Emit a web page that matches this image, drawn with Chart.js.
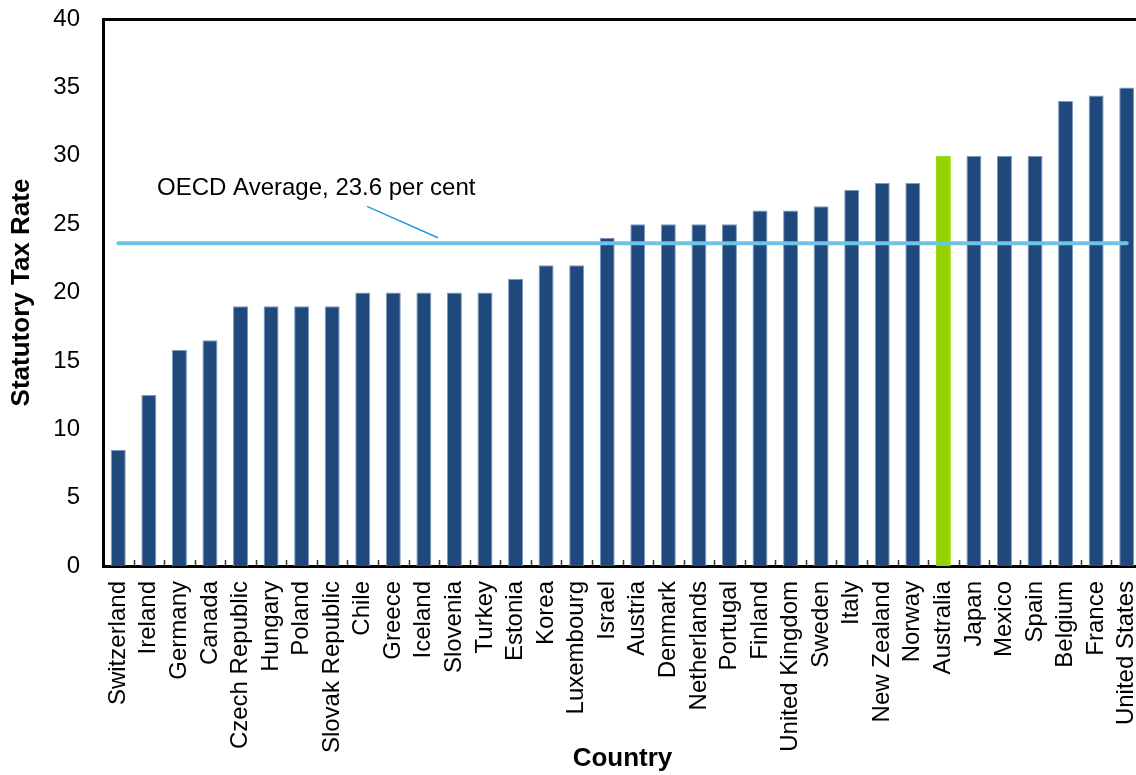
<!DOCTYPE html>
<html>
<head>
<meta charset="utf-8">
<title>Statutory Tax Rate by Country</title>
<script src="https://cdn.jsdelivr.net/npm/chart.js@4.4.1/dist/chart.umd.min.js"></script>
<style>
    html, body { margin: 0; padding: 0; background: #fff; overflow: hidden; }
    #wrap { width: 1142px; height: 775px; }
</style>
</head>
<body>
<div id="wrap"><canvas id="taxChart" width="1142" height="775"></canvas></div>
<script>
    const countries = [
        'Switzerland', 'Ireland', 'Germany', 'Canada', 'Czech Republic', 'Hungary',
        'Poland', 'Slovak Republic', 'Chile', 'Greece', 'Iceland', 'Slovenia',
        'Turkey', 'Estonia', 'Korea', 'Luxembourg', 'Israel', 'Austria',
        'Denmark', 'Netherlands', 'Portugal', 'Finland', 'United Kingdom', 'Sweden',
        'Italy', 'New Zealand', 'Norway', 'Australia', 'Japan', 'Mexico',
        'Spain', 'Belgium', 'France', 'United States'
    ];
    const taxRates = [
        8.5, 12.5, 15.8, 16.5, 19, 19,
        19, 19, 20, 20, 20, 20,
        20, 21, 22, 22, 24, 25,
        25, 25, 25, 26, 26, 26.3,
        27.5, 28, 28, 30, 30, 30,
        30, 34, 34.4, 35
    ];
    const yTicks = [0, 5, 10, 15, 20, 25, 30, 35, 40];
    const oecdAverage = 23.6;
    const highlightCountry = 'Australia';

    const FONT = "'Liberation Sans', Arial, sans-serif";
    const BAR_BLUE = '#1F497D';
    const BAR_GREEN = '#95D300';
    const AVG_BLUE = '#6EC3E6';
    const NOTE_BLUE = '#1E9FDC';

    Chart.defaults.font.family = FONT;
    Chart.defaults.color = '#000';

    // keep the plot box fixed: drop the extra room scales ask for around their end labels
    function noEdgePadding(scale) {
        scale.paddingLeft = 0;
        scale.paddingRight = 0;
        scale.paddingTop = 0;
        scale.paddingBottom = 0;
    }

    // short tick marks between categories, pointing up into the plot
    const innerTicks = {
        id: 'innerTicks',
        afterDraw(chart) {
            const { ctx, scales: { x }, chartArea } = chart;
            ctx.save();
            ctx.strokeStyle = '#333';
            ctx.lineWidth = 1.5;
            ctx.beginPath();
            for (let i = 1; i < countries.length; i++) {
                const px = Math.round(x.getPixelForValue(i - 0.5)) + 0.5;
                ctx.moveTo(px, chartArea.bottom);
                ctx.lineTo(px, chartArea.bottom - 6);
            }
            ctx.stroke();
            ctx.restore();
        }
    };

    // average label + its little pointer line, placed in axis units
    const averageNote = {
        id: 'averageNote',
        afterDatasetsDraw(chart) {
            const { ctx, scales: { x, y } } = chart;
            ctx.save();
            ctx.font = '24px ' + FONT;
            ctx.fillStyle = '#000';
            ctx.textBaseline = 'alphabetic';
            ctx.fillText('OECD Average, ' + oecdAverage + ' per cent',
                x.getPixelForValue(1.27), y.getPixelForValue(27.15));
            ctx.strokeStyle = NOTE_BLUE;
            ctx.lineWidth = 1.5;
            ctx.beginPath();
            ctx.moveTo(x.getPixelForValue(8.14), y.getPixelForValue(26.3));
            ctx.lineTo(x.getPixelForValue(10.46), y.getPixelForValue(24.0));
            ctx.stroke();
            ctx.restore();
        }
    };

    const ctx = document.getElementById('taxChart').getContext('2d');
    const chart = new Chart(ctx, {
        type: 'bar',
        data: {
            labels: countries,
            datasets: [{
                type: 'line',
                label: 'OECD Average',
                data: countries.map(() => oecdAverage),
                borderColor: AVG_BLUE,
                borderWidth: 4,
                borderCapStyle: 'round',
                pointRadius: 0,
                fill: false,
                order: 1
            }, {
                label: 'Statutory Tax Rate',
                data: taxRates,
                backgroundColor: countries.map(c => c === highlightCountry ? BAR_GREEN : BAR_BLUE),
                borderColor: countries.map(c => c === highlightCountry ? BAR_GREEN : '#7F9BC0'),
                borderWidth: { left: 1, right: 1, top: 1, bottom: 0 },
                borderSkipped: 'bottom',
                categoryPercentage: 1,
                barPercentage: 0.49,
                order: 2
            }]
        },
        options: {
            responsive: false,
            animation: false,
            devicePixelRatio: 1,
            layout: { padding: { top: 19, left: 0, right: 0, bottom: 0 } },
            plugins: {
                legend: { display: false },
                tooltip: { enabled: false }
            },
            scales: {
                x: {
                    grid: { display: false, drawTicks: false },
                    border: { display: true, color: '#000', width: 3 },
                    ticks: {
                        autoSkip: false,
                        maxRotation: 90,
                        minRotation: 90,
                        padding: 15,
                        font: { size: 24 },
                        color: '#000'
                    },
                    title: {
                        display: true,
                        text: 'Country',
                        font: { size: 26, weight: 'bold' },
                        color: '#000',
                        padding: { top: 0, bottom: 1 }
                    },
                    afterFit(scale) {
                        scale.height = 209;
                        noEdgePadding(scale);
                    }
                },
                xTop: {
                    type: 'category',
                    position: 'top',
                    labels: countries,
                    grid: { display: false, drawTicks: false },
                    border: { display: true, color: '#000', width: 3 },
                    ticks: { display: false },
                    afterFit(scale) {
                        scale.height = 0;
                        noEdgePadding(scale);
                    }
                },
                y: {
                    min: 0,
                    max: 40,
                    afterBuildTicks(scale) {
                        scale.ticks = yTicks.map(v => ({ value: v }));
                    },
                    grid: { display: false, drawTicks: false },
                    border: { display: true, color: '#000', width: 3 },
                    ticks: {
                        padding: 23,
                        font: { size: 24 },
                        color: '#000'
                    },
                    title: {
                        display: true,
                        text: 'Statutory Tax Rate',
                        font: { size: 26, weight: 'bold' },
                        color: '#000',
                        padding: { top: 6, bottom: 0 }
                    },
                    afterFit(scale) {
                        scale.width = 103;
                        noEdgePadding(scale);
                    }
                }
            }
        },
        plugins: [averageNote, innerTicks]
    });
</script>
</body>
</html>
